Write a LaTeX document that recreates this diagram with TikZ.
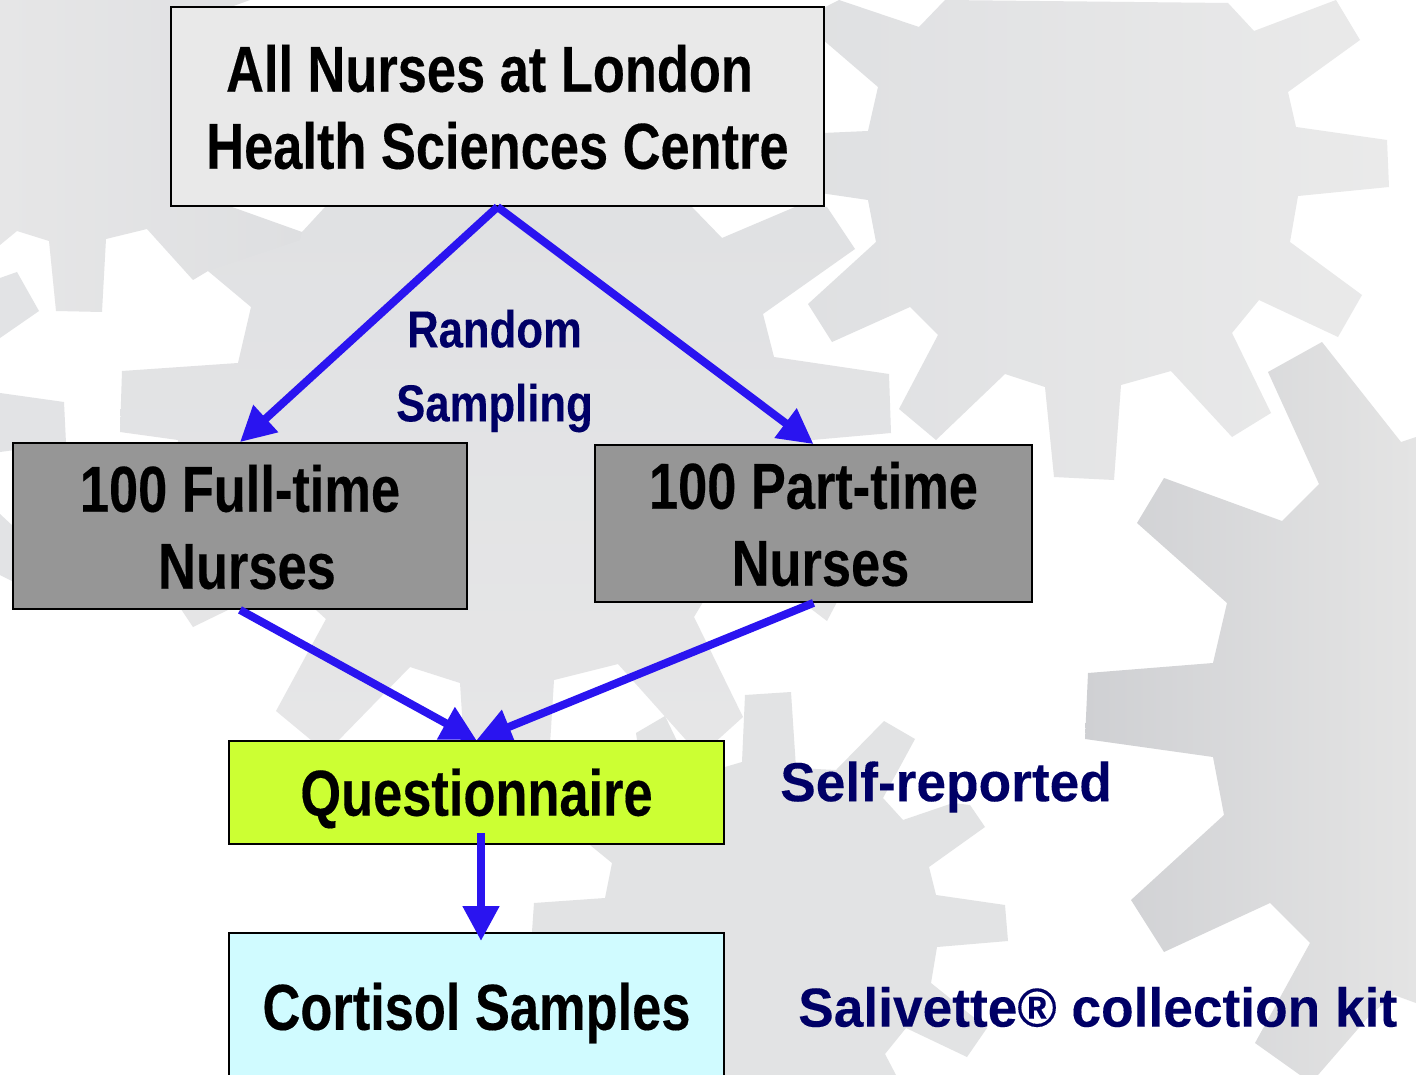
\documentclass[tikz,border=0pt]{standalone}
\usepackage{fontspec}
\usetikzlibrary{arrows.meta}
\newfontfamily\narrowfont[FakeStretch=0.806,FakeBold=0.25]{Liberation Sans}
\newfontfamily\labelnarrow[FakeStretch=0.84,FakeBold=0.15]{Liberation Sans}
\newfontfamily\widefont[FakeStretch=0.969,FakeBold=0.15]{Liberation Sans}
\definecolor{arrowblue}{HTML}{2A14F0}
\definecolor{labelblue}{HTML}{000066}
\pgfdeclarelayer{front}
\pgfsetlayers{main,front}
\newcommand{\lowered}[2]{\raisebox{-#1pt}[\height][\depth]{#2}}
\tikzset{
  flowbox/.style={draw=black,line width=1.8pt,inner sep=0pt,align=center,font=\narrowfont\bfseries\fontsize{65}{77}\selectfont},
  flowarrow/.style={draw=arrowblue,line width=8pt,-{Triangle[length=35pt,width=35pt]}},
  narrowlabel/.style={text=labelblue,align=center,inner sep=0pt,font=\labelnarrow\bfseries\fontsize{52}{74}\selectfont},
  widelabel/.style={text=labelblue,inner sep=0pt,font=\widefont\bfseries\fontsize{55}{60}\selectfont}
}
\begin{document}
\begin{tikzpicture}[x=1pt,y=-1pt]
\useasboundingbox (0,0) rectangle (1416,1075);
\clip (0,0) rectangle (1416,1075);
\fill[white] (0,0) rectangle (1416,1075);
% right gear
\shade[left color={rgb,255:red,207;green,208;blue,211},right color={rgb,255:red,228;green,228;blue,228}]
 (1322,342)--(1401,442)--(1416,437)--(1416,1003)--(1394,995)--(1370,1015)--(1318,1075)--(1300,1075)--(1255,1043)--(1310,943)--(1270,903)--(1164,952)--(1131,900)--(1224,815)--(1213,757)--(1085,739)--(1088,673)--(1213,663)--(1227,603)--(1137,523)--(1164,478)--(1282,521)--(1319,484)--(1268,372)--cycle;
% lower gear
\fill[fill={rgb,255:red,226;green,227;blue,228}]
 (534,903)--(605,898)--(612,863)--(590,845)--(640,760)--(637,740)--(636,733)--(665,716)--(690,768)--(725,767)--(742,762)--(745,695)--(791,692)--(796,768)--(836,770)--(884,721)--(915,739)--(883,798)--(903,820)--(953,803)--(970,805)--(985,827)--(929,867)--(936,895)--(1005,905)--(1008,941)--(937,947)--(931,983)--(987,1028)--(967,1057)--(906,1028)--(885,1054)--(896,1075)--(532,1075)--(532,932)--cycle;
% top-right gear
\shade[shading angle=-45,left color={rgb,255:red,223;green,224;blue,226},right color={rgb,255:red,234;green,234;blue,234}]
 (839,0)--(919,27)--(945,0)--(1228,3)--(1254,31)--(1336,0)--(1360,40)--(1288,92)--(1296,127)--(1387,140)--(1389,187)--(1298,196)--(1290,242)--(1362,295)--(1338,337)--(1259,300)--(1232,333)--(1271,413)--(1232,437)--(1171,371)--(1121,385)--(1114,480)--(1054,477)--(1045,387)--(1005,374)--(936,440)--(899,409)--(938,335)--(910,307)--(832,342)--(808,304)--(876,242)--(868,200)--(800,190)--(800,134)--(868,131)--(878,87)--(800,20)--cycle;
% top-left gear
\shade[shading angle=-45,left color={rgb,255:red,230;green,230;blue,231},right color={rgb,255:red,222;green,223;blue,225}]
 (0,0)--(250,0)--(228,8)--(228,207)--(232,207)--(302,232)--(302,300)--(208,271)--(193,280)--(147,229)--(106,239)--(102,312)--(56,311)--(49,241)--(17,231)--(0,245)--cycle;
% central gear
\shade[top color={rgb,255:red,224;green,225;blue,227},bottom color={rgb,255:red,230;green,230;blue,231}]
 (325,207)--(692,207)--(722,238)--(795,207)--(827,207)--(855,249)--(763,314)--(774,357)--(889,374)--(891,433)--(812,440)--(760,520)--(837,602)--(827,621)--(760,570)--(703,602)--(694,617)--(743,717)--(712,745)--(686,740)--(618,664)--(554,680)--(550,745)--(464,745)--(460,683)--(410,667)--(334,745)--(311,740)--(276,711)--(326,619)--(316,610)--(280,590)--(230,609)--(193,627)--(181,609)--(170,530)--(178,440)--(120,432)--(122,371)--(238,363)--(251,307)--(208,271)--(300,240)--(302,232)--cycle;
% small left fragments
\fill[fill={rgb,255:red,226;green,227;blue,229}] (0,278)--(17,272)--(39,311)--(0,338)--cycle;
\fill[fill={rgb,255:red,226;green,227;blue,229}] (0,393)--(64,402)--(66,443)--(0,452)--cycle;
\fill[fill={rgb,255:red,226;green,227;blue,229}] (0,514)--(14,527)--(14,582)--(0,575)--cycle;
% boxes
\node[flowbox,fill={rgb,255:red,233;green,233;blue,233},minimum width=653pt,minimum height=199pt] (top) at (497.5,106.5) {\lowered{0.5}{All Nurses at London\hspace*{16pt}}\\\lowered{0.5}{Health Sciences Centre}};
\node[flowbox,fill={rgb,255:red,150;green,150;blue,150},minimum width=454pt,minimum height=166pt] (full) at (240,526) {\lowered{1}{100 Full-time}\\\lowered{1}{\hspace*{14pt}Nurses}};
\node[flowbox,fill={rgb,255:red,150;green,150;blue,150},minimum width=437pt,minimum height=157pt] (part) at (813.5,523.5) {\lowered{0.5}{100 Part-time}\\\lowered{0.5}{\hspace*{14pt}Nurses}};
\begin{pgfonlayer}{front}
\node[flowbox,fill={rgb,255:red,204;green,255;blue,51},minimum width=495pt,minimum height=103pt] (quest) at (476.5,792.5) {\lowered{6}{Questionnaire}};
\end{pgfonlayer}
\node[flowbox,fill={rgb,255:red,208;green,251;blue,255},minimum width=495pt,minimum height=154pt] (cort) at (476.5,1010) {\lowered{3}{Cortisol Samples}};
% labels
\node[narrowlabel] (rand) at (494.5,371) {Random\\Sampling};
\node[widelabel,anchor=west] (self) at (780,787) {Self-reported};
\node[widelabel,anchor=west] (sali) at (798,1007) {Salivette® collection kit};
% connectors
\coordinate (qstart) at (481,833);
\coordinate (cend) at (481,941);
\draw[flowarrow] (top.south) -- (full.north);
\draw[flowarrow] (top.south) -- (part.north);
\draw[flowarrow] (full.south) -- (quest.north);
\draw[flowarrow] (part.south) -- (quest.north);
\begin{pgfonlayer}{front}
\draw[flowarrow] (qstart) -- (cend);
\end{pgfonlayer}
\end{tikzpicture}
\end{document}
